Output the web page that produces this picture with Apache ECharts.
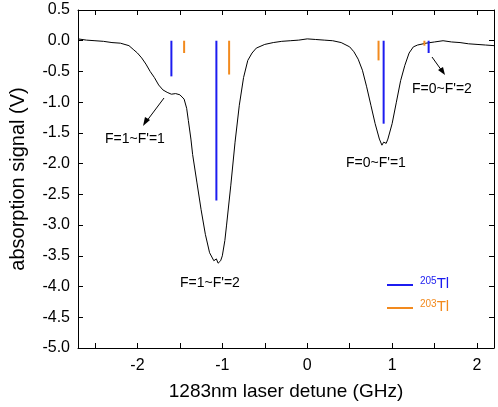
<!DOCTYPE html><html><head><meta charset="utf-8">
<script src="https://cdn.jsdelivr.net/npm/echarts@6/dist/echarts.min.js"></script>
<style>html,body{margin:0;padding:0;background:#fff}#c{width:498px;height:407px}</style></head><body><div id="c"></div>
<script>
const detune=[-2.7,-2.6,-2.5,-2.4,-2.3,-2.2,-2.1,-2.05,-2.0,-1.95,-1.9,-1.85,-1.8,-1.75,-1.7,-1.65,-1.6,-1.55,-1.5,-1.45,-1.42,-1.4,-1.37,-1.35,-1.3,-1.25,-1.2,-1.15,-1.1,-1.07,-1.05,-1.02,-1.0,-0.97,-0.95,-0.9,-0.85,-0.8,-0.75,-0.7,-0.65,-0.6,-0.5,-0.4,-0.3,-0.2,-0.1,0,0.1,0.2,0.3,0.4,0.5,0.55,0.6,0.65,0.7,0.75,0.8,0.85,0.88,0.9,0.93,0.95,1.0,1.05,1.1,1.15,1.2,1.25,1.3,1.4,1.5,1.6,1.7,1.8,1.9,2.0,2.1,2.2];
const signal=[0.03,0.01,0.0,-0.01,-0.03,-0.04,-0.08,-0.14,-0.2,-0.28,-0.38,-0.5,-0.6,-0.72,-0.8,-0.84,-0.87,-0.86,-0.88,-0.95,-1.1,-1.3,-1.6,-1.85,-2.3,-2.75,-3.15,-3.45,-3.58,-3.55,-3.62,-3.58,-3.5,-3.25,-3.0,-2.35,-1.65,-1.05,-0.6,-0.32,-0.2,-0.12,-0.06,-0.03,-0.01,0.0,0.01,0.03,0.02,0.01,0.0,-0.03,-0.1,-0.18,-0.3,-0.48,-0.75,-1.05,-1.35,-1.6,-1.7,-1.65,-1.67,-1.6,-1.35,-1.0,-0.65,-0.4,-0.2,-0.1,-0.07,-0.04,-0.02,0.0,-0.02,-0.03,-0.05,-0.06,-0.07,-0.08];
const tl205X=[-1.6,-1.07,0.9,1.43];
const tl205Depth=[-0.58,-2.6,-1.35,-0.2];
const tl203X=[-1.45,-0.92,0.84,1.38];
const tl203Depth=[-0.2,-0.55,-0.32,-0.08];
const xLabels=[-2,-1,0,1,2];
const xTicks=[-2.5,-2,-1.5,-1,-0.5,0,0.5,1,1.5,2];
const BLUE='#1c1cf0',ORANGE='#f28a1e';
const series=[{type:'line',data:detune.map((x,i)=>[x,signal[i]]),symbol:'none',lineStyle:{color:'#000',width:1},z:3}];
tl205X.forEach((x,i)=>series.push({type:'line',data:[[x,0],[x,tl205Depth[i]]],symbol:'none',lineStyle:{color:BLUE,width:2},z:4}));
tl203X.forEach((x,i)=>series.push({type:'line',data:[[x,0],[x,tl203Depth[i]]],symbol:'none',lineStyle:{color:ORANGE,width:2},z:4}));
const ax={axisLine:{show:true,onZero:false,lineStyle:{color:'#000'}},splitLine:{show:false}};
const tf='Liberation Sans';
const chart=echarts.init(document.getElementById('c'));
chart.setOption({animation:false,textStyle:{fontFamily:tf},
grid:{left:73,right:4,top:10,bottom:59},
xAxis:[{type:'value',min:-2.7,max:2.2,...ax,axisTick:{inside:true,customValues:xTicks,length:5},axisLabel:{customValues:xLabels,fontSize:16,color:'#000',fontFamily:tf,margin:10},
 name:'1283nm laser detune (GHz)',nameLocation:'middle',nameGap:34,nameTextStyle:{fontSize:19,color:'#000',fontFamily:tf}},
 {type:'value',position:'top',min:-2.7,max:2.2,...ax,axisTick:{inside:true,customValues:xTicks,length:5},axisLabel:{show:false}}],
yAxis:[{type:'value',min:-5,max:0.5,interval:0.5,...ax,axisTick:{inside:true,length:5},axisLabel:{fontSize:16,color:'#000',fontFamily:tf,formatter:v=>v.toFixed(1)},
 name:'absorption signal (V)',nameLocation:'middle',nameGap:50,nameTextStyle:{fontSize:20,color:'#000',fontFamily:tf}},
 {type:'value',position:'right',min:-5,max:0.5,interval:0.5,...ax,axisTick:{inside:true,length:5},axisLabel:{show:false}}],
series:series,
graphic:[
 {type:'text',left:105,top:132,style:{text:'F=1~F\'=1',font:'14px Liberation Sans',fill:'#000'}},
 {type:'text',left:180,top:276,style:{text:'F=1~F\'=2',font:'14px Liberation Sans',fill:'#000'}},
 {type:'text',left:346,top:156,style:{text:'F=0~F\'=1',font:'14px Liberation Sans',fill:'#000'}},
 {type:'text',left:412,top:82,style:{text:'F=0~F\'=2',font:'14px Liberation Sans',fill:'#000'}},
 {type:'line',shape:{x1:164,y1:98,x2:146,y2:122},style:{stroke:'#000',lineWidth:1}},
 {type:'polygon',shape:{points:[[143,126],[145,117],[150,120]]},style:{fill:'#000'}},
 {type:'line',shape:{x1:432,y1:57,x2:442,y2:71},style:{stroke:'#000',lineWidth:1}},
 {type:'polygon',shape:{points:[[445,75],[438,70],[443,67]]},style:{fill:'#000'}},
 {type:'line',shape:{x1:387,y1:285,x2:413,y2:285},style:{stroke:BLUE,lineWidth:2}},
 {type:'text',left:420,top:276,style:{rich:{s:{fontSize:10,fill:BLUE,verticalAlign:'top'},b:{fontSize:15,fill:BLUE}},text:'{s|205}{b|Tl}'}},
 {type:'line',shape:{x1:387,y1:308,x2:413,y2:308},style:{stroke:ORANGE,lineWidth:2}},
 {type:'text',left:420,top:299,style:{rich:{s:{fontSize:10,fill:ORANGE,verticalAlign:'top'},b:{fontSize:15,fill:ORANGE}},text:'{s|203}{b|Tl}'}}
]});
</script></body></html>
